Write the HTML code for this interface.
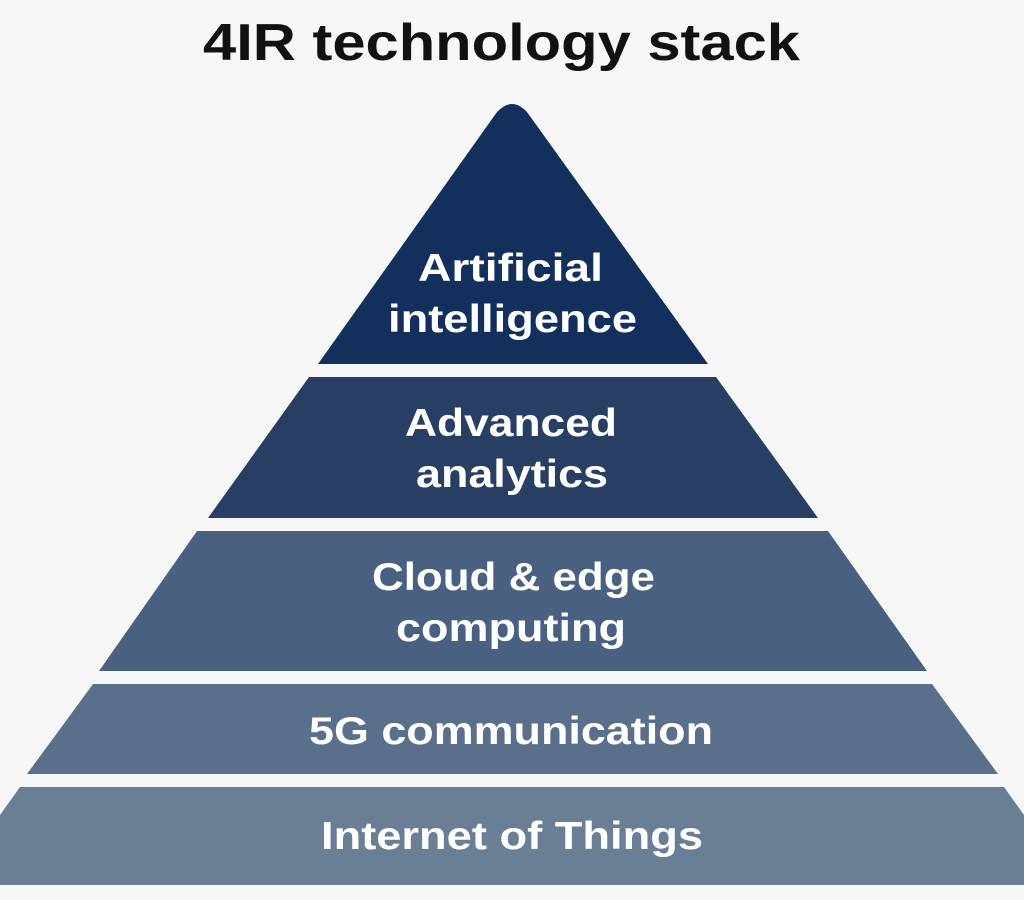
<!DOCTYPE html>
<html><head><meta charset="utf-8"><style>
html,body{margin:0;padding:0;background:#f7f7f7;}
body{width:1024px;height:900px;overflow:hidden;font-family:"Liberation Sans",sans-serif;}
</style></head><body>
<svg width="1024" height="900" xmlns="http://www.w3.org/2000/svg" style="display:block">
<rect width="1024" height="900" fill="#f7f7f7"/>
<text x="203" y="60" textLength="597" lengthAdjust="spacingAndGlyphs" font-family="Liberation Sans, sans-serif" font-weight="bold" font-size="52" fill="#111">4IR technology stack</text>
<path d="M318,364 L497,112 Q512,96 527,112 L708,364 Z" fill="#13305c"/>
<polygon points="309,377 716,377 818,518 208,518" fill="#283f63"/>
<polygon points="197,531 828,531 927,671 99,671" fill="#4a6080"/>
<polygon points="93,684 932,684 998,774 27,774" fill="#5a6f8a"/>
<polygon points="20,787 1004,787 1024,815 1024,885 0,885 0,815" fill="#6a7e96"/>
<g font-family="Liberation Sans, sans-serif" font-size="39" font-weight="bold" fill="#fff" lengthAdjust="spacingAndGlyphs">
<text x="418" y="281" textLength="185" lengthAdjust="spacingAndGlyphs">Artificial</text>
<text x="388" y="332" textLength="249" lengthAdjust="spacingAndGlyphs">intelligence</text>
<text x="405" y="436" textLength="212" lengthAdjust="spacingAndGlyphs">Advanced</text>
<text x="416" y="487" textLength="192" lengthAdjust="spacingAndGlyphs">analytics</text>
<text x="372" y="590" textLength="283" lengthAdjust="spacingAndGlyphs">Cloud &amp; edge</text>
<text x="396" y="641" textLength="230" lengthAdjust="spacingAndGlyphs">computing</text>
<text x="309" y="744" textLength="404" lengthAdjust="spacingAndGlyphs">5G communication</text>
<text x="321" y="849" textLength="382" lengthAdjust="spacingAndGlyphs">Internet of Things</text>
</g>
</svg>
</body></html>
